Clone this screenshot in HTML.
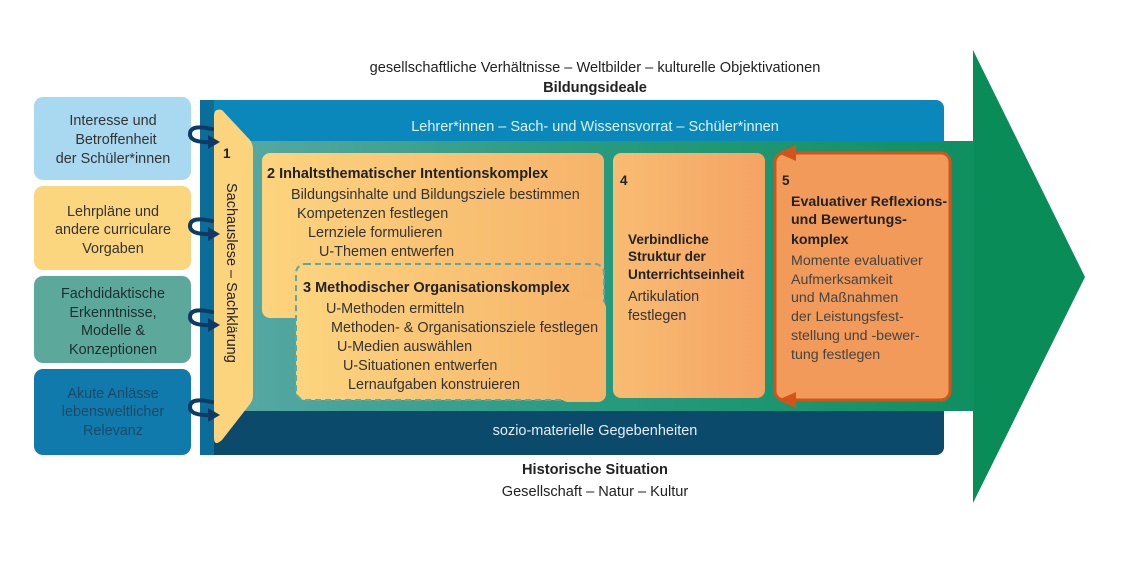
<!DOCTYPE html>
<html><head><meta charset="utf-8"><style>
html,body{margin:0;padding:0;background:#fff;}
svg{display:block;font-family:"Liberation Sans",Arial,sans-serif;}
</style></head><body>
<svg width="1147" height="569" viewBox="0 0 1147 569" xmlns="http://www.w3.org/2000/svg">
<defs>
<linearGradient id="mid" x1="0" x2="1" y1="0" y2="0">
<stop offset="0" stop-color="#5aa9a6"/><stop offset="0.45" stop-color="#2a9c82"/><stop offset="1" stop-color="#0f9060"/>
</linearGradient>
<linearGradient id="yel" x1="0" x2="1" y1="0" y2="0">
<stop offset="0" stop-color="#fcd47e"/><stop offset="1" stop-color="#f6b36a"/>
</linearGradient>
<linearGradient id="or4" x1="0" x2="1"><stop offset="0" stop-color="#f8bc72"/><stop offset="1" stop-color="#f5a364"/></linearGradient>
</defs>
<polygon points="930,141 973,141 973,50 1085,277 973,503 973,411 930,411" fill="#0a8c58"/>
<rect x="200" y="100" width="744" height="355" rx="8" fill="#0a88bb"/>
<rect x="200" y="410" width="744" height="45" rx="8" fill="#0b4a6b"/>
<rect x="200" y="380" width="744" height="40" fill="#0b4a6b"/>
<rect x="200" y="100" width="14" height="355" fill="#0b6d9a"/>
<rect x="214" y="141" width="760" height="270" fill="url(#mid)"/>
<text x="595" y="131" font-size="14.5" fill="#dff2f8" text-anchor="middle">Lehrer*innen – Sach- und Wissensvorrat – Schüler*innen</text>
<text x="595" y="435" font-size="14.5" fill="#e4eef4" text-anchor="middle">sozio-materielle Gegebenheiten</text>
<path d="M214,116 Q214,108 222,110 L250,140 Q253,144 253,150 L253,395 Q253,400 250,404 L222,440 Q214,447 214,438 Z" fill="#fcd47e"/>
<text x="223" y="158" font-size="13.5" font-weight="bold" fill="#222">1</text>
<text transform="translate(227,183) rotate(90)" font-size="14.5" fill="#222">Sachauslese – Sachklärung</text>
<rect x="262" y="153" width="342" height="165" rx="8" fill="url(#yel)"/>
<text x="267" y="178" font-size="14.5" font-weight="bold" fill="#222">2  Inhaltsthematischer Intentionskomplex</text>
<g font-size="14.4" fill="#333">
<text x="291" y="199">Bildungsinhalte und Bildungsziele bestimmen</text>
<text x="297" y="218">Kompetenzen festlegen</text>
<text x="308" y="237">Lernziele formulieren</text>
<text x="319" y="256">U-Themen entwerfen</text>
</g>
<rect x="296" y="264" width="308" height="136" rx="9" fill="url(#yel)" stroke="#5aa9a6" stroke-width="2" stroke-dasharray="6,4"/>
<rect x="298" y="290" width="300" height="108" rx="8" fill="url(#yel)"/>
<rect x="560" y="300" width="46" height="102" rx="8" fill="#f6b56a"/>
<text x="303" y="292" font-size="14.5" font-weight="bold" fill="#222">3  Methodischer Organisationskomplex</text>
<g font-size="14.4" fill="#333">
<text x="326" y="313">U-Methoden ermitteln</text>
<text x="331" y="332">Methoden- &amp; Organisationsziele festlegen</text>
<text x="337" y="351">U-Medien auswählen</text>
<text x="343" y="370">U-Situationen entwerfen</text>
<text x="348" y="389">Lernaufgaben konstruieren</text>
</g>
<rect x="613" y="153" width="152" height="245" rx="8" fill="url(#or4)"/>
<text x="620" y="185" font-size="13.5" font-weight="bold" fill="#222">4</text>
<g font-size="13.6" fill="#222" font-weight="bold">
<text x="628" y="244">Verbindliche</text>
<text x="628" y="261">Struktur der</text>
<text x="628" y="279">Unterrichtseinheit</text>
</g>
<g font-size="14.4" fill="#333">
<text x="628" y="301">Artikulation</text>
<text x="628" y="320">festlegen</text>
</g>
<rect x="775" y="153" width="175" height="247" rx="9" fill="#f29a5a" stroke="#d4531a" stroke-width="3"/>
<polygon points="778,153 796,145 796,161" fill="#d4531a"/>
<polygon points="778,400 796,392 796,408" fill="#d4531a"/>
<text x="782" y="185" font-size="13.5" font-weight="bold" fill="#222">5</text>
<g font-size="14.2" fill="#222" font-weight="bold">
<text x="791" y="206">Evaluativer Reflexions-</text>
<text x="791" y="224">und Bewertungs-</text>
<text x="791" y="244">komplex</text>
</g>
<g font-size="14.2" fill="#444">
<text x="791" y="265">Momente evaluativer</text>
<text x="791" y="284">Aufmerksamkeit</text>
<text x="791" y="302">und Maßnahmen</text>
<text x="791" y="321">der Leistungsfest-</text>
<text x="791" y="340">stellung und -bewer-</text>
<text x="791" y="359">tung festlegen</text>
</g>
<rect x="34" y="97" width="157" height="83" rx="9" fill="#a9d9f1"/>
<rect x="34" y="186" width="157" height="84" rx="9" fill="#fbd67e"/>
<rect x="34" y="276" width="157" height="87" rx="9" fill="#5ca99c"/>
<rect x="34" y="369" width="157" height="86" rx="9" fill="#0f7aab"/>
<g font-size="14.4" text-anchor="middle">
<g fill="#333"><text x="113" y="125">Interesse und</text><text x="116" y="144">Betroffenheit</text><text x="113" y="163">der Schüler*innen</text></g>
<g fill="#333"><text x="113" y="216">Lehrpläne und</text><text x="113" y="234">andere curriculare</text><text x="113" y="253">Vorgaben</text></g>
<g fill="#1e2e30"><text x="113" y="298">Fachdidaktische</text><text x="113" y="317">Erkenntnisse,</text><text x="113" y="335">Modelle &amp;</text><text x="113" y="354">Konzeptionen</text></g>
<g fill="#1c4a66"><text x="113" y="398">Akute Anlässe</text><text x="113" y="416">lebensweltlicher</text><text x="113" y="435">Relevanz</text></g>
</g>
<g fill="none" stroke="#0e3b66" stroke-width="4" stroke-linecap="round">
<path d="M212,129 Q190,124 190,134 Q190,143 212,142"/>
<path d="M212,221 Q190,216 190,226 Q190,235 212,234"/>
<path d="M212,312 Q190,307 190,317 Q190,326 212,325"/>
<path d="M212,402 Q190,397 190,407 Q190,416 212,415"/>
</g>
<g fill="#0e3b66">
<polygon points="220,142 208,135 208,149"/>
<polygon points="220,234 208,227 208,241"/>
<polygon points="220,325 208,318 208,332"/>
<polygon points="220,415 208,408 208,422"/>
</g>
<text x="595" y="72" font-size="14.6" fill="#222" text-anchor="middle">gesellschaftliche Verhältnisse – Weltbilder – kulturelle Objektivationen</text>
<text x="595" y="92" font-size="14.6" font-weight="bold" fill="#222" text-anchor="middle">Bildungsideale</text>
<text x="595" y="474" font-size="14.6" font-weight="bold" fill="#222" text-anchor="middle">Historische Situation</text>
<text x="595" y="496" font-size="14.6" fill="#222" text-anchor="middle">Gesellschaft – Natur – Kultur</text>
</svg>
</body></html>
